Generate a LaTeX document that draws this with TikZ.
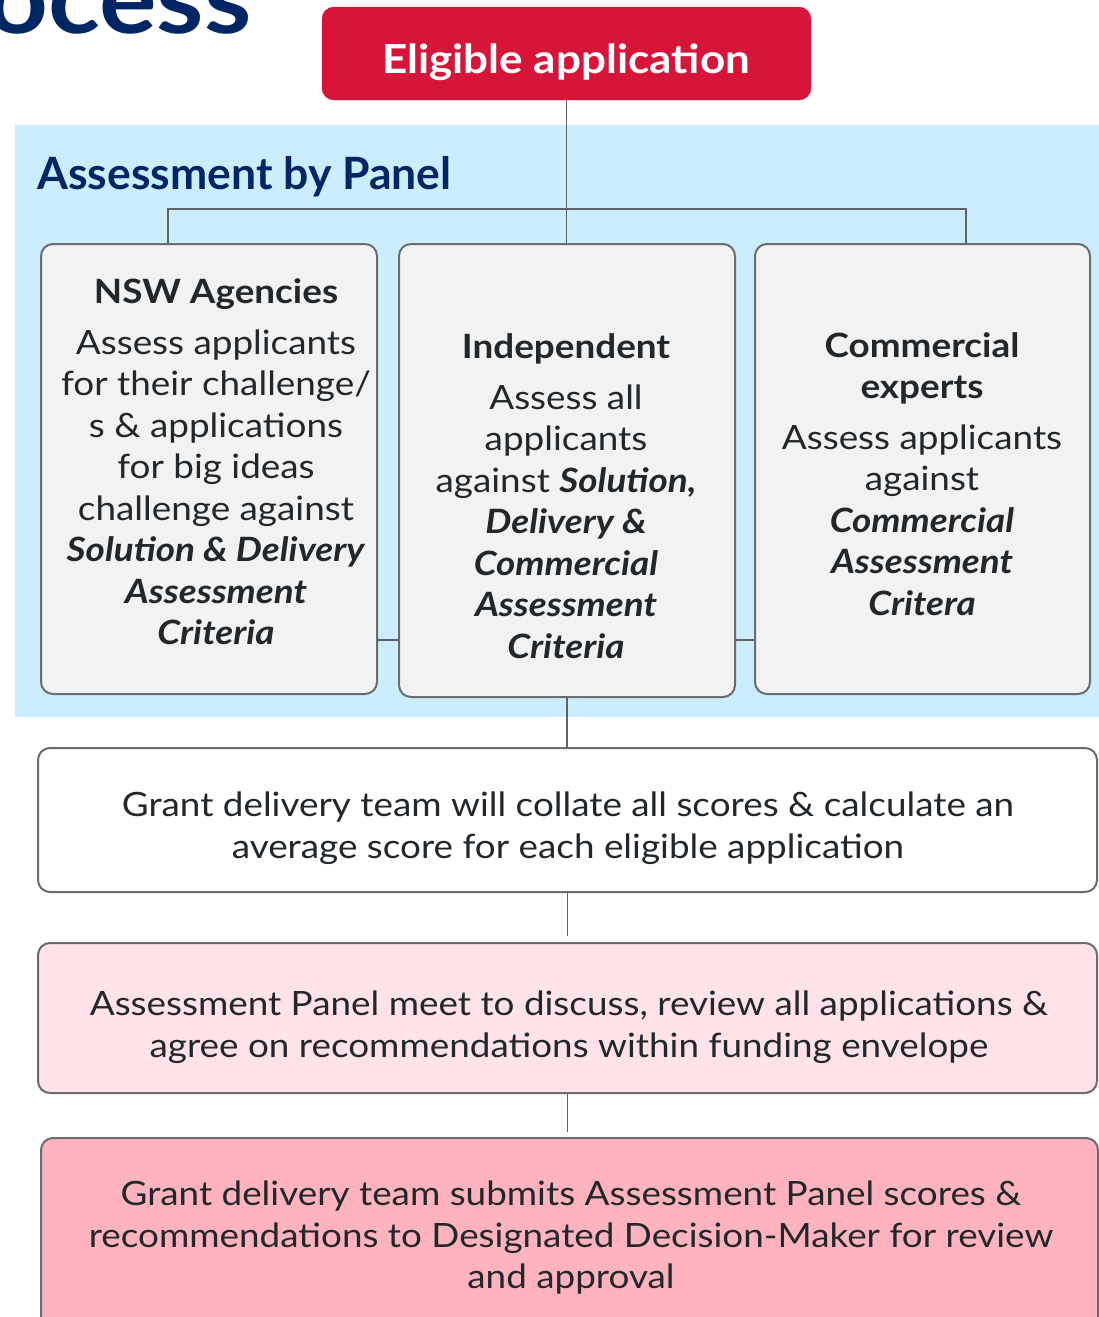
\documentclass[tikz,border=0pt]{standalone}
\usepackage{fontspec}
\setmainfont{Lato}[FakeStretch=1.1]
\newfontfamily\titlefont{Lato}
\usetikzlibrary{calc}
\definecolor{navy}{HTML}{002664}
\definecolor{nswred}{HTML}{D7153A}
\definecolor{panelblue}{HTML}{CBEDFD}
\definecolor{boxgray}{HTML}{F2F2F2}
\definecolor{bordergray}{HTML}{6A6D70}
\definecolor{linegray}{HTML}{5F6368}
\definecolor{textdark}{HTML}{22272B}
\definecolor{pinklight}{HTML}{FFE3E8}
\definecolor{pinkmid}{HTML}{FFB3BE}
\newcommand\bodyfont{\fontsize{33.5}{41.5}\selectfont}
\newcommand\bi[1]{\textbf{\textit{#1}}}
\begin{document}
\begin{tikzpicture}[x=1pt,y=-1pt,
  box/.style={draw=bordergray, line width=2pt, rounded corners=12pt, fill=boxgray, inner sep=0pt},
  conn/.style={draw=linegray, line width=1.5pt},
  txt/.style={text=textdark, align=center, font=\bodyfont, inner sep=0pt}]
\useasboundingbox (0,0) rectangle (1099,1317);
% cropped title
\node[anchor=base west, inner sep=0pt, text=navy, font=\fontsize{98}{100}\selectfont\bfseries] (title) at (-14,33) {ocess};
% panel
\node[fill=panelblue, inner sep=0pt, minimum width=1100pt, minimum height=592pt] (panel) at (565,421) {};
\node[anchor=base west, inner sep=0pt, text=navy, font=\titlefont\fontsize{44.5}{50}\selectfont\bfseries] (ptitle) at (37,189) {Assessment by Panel};
% eligible
\node[fill=nswred, draw=nswred, rounded corners=12pt, minimum width=489pt, minimum height=93pt] (elig) at (566.5,53.5) {};
\node[anchor=base, inner sep=0pt, text=white, font=\fontsize{40}{46}\selectfont\bfseries] (eligtxt) at (566,73) {Eligible application};
% three boxes
\node[box, minimum width=336pt, minimum height=450pt] (nsw) at (209,469) {};
\node[box, minimum width=336pt, minimum height=453pt] (mid) at (567,470.5) {};
\node[box, minimum width=335pt, minimum height=450pt] (comm) at (922.5,469) {};
\node[txt] (nswtxt) at (216,462) {\textbf{NSW Agencies}\\[9pt]
Assess applicants\\ for their challenge/\\ s \& applications\\ for big ideas\\ challenge against\\
\bi{Solution \& Delivery}\\ \bi{Assessment}\\ \bi{Criteria}};
\node[txt] (midtxt) at (566,496) {\textbf{Independent}\\[9pt]
Assess all\\ applicants\\ against \bi{Solution,}\\ \bi{Delivery \&}\\ \bi{Commercial}\\ \bi{Assessment}\\ \bi{Criteria}};
\node[txt] (commtxt) at (922,474) {\textbf{Commercial}\\ \textbf{experts}\\[9pt]
Assess applicants\\ against\\ \bi{Commercial}\\ \bi{Assessment}\\ \bi{Critera}};
% lower boxes
\node[box, fill=white, minimum width=1059pt, minimum height=144pt] (collate) at (567.5,820) {};
\node[txt] (collatetxt) at (568,828) {Grant delivery team will collate all scores \& calculate an\\ average score for each eligible application};
\node[box, fill=pinklight, minimum width=1059pt, minimum height=150pt] (meet) at (567.5,1018) {};
\node[txt] (meettxt) at (569,1027) {Assessment Panel meet to discuss, review all applications \&\\ agree on recommendations within funding envelope};
\node[box, fill=pinkmid, minimum width=1057pt, minimum height=197pt] (submit) at (569.5,1236.5) {};
\node[txt] (submittxt) at (571,1238) {Grant delivery team submits Assessment Panel scores \&\\ recommendations to Designated Decision-Maker for review\\ and approval};
% connectors
\coordinate (busL) at (168,209);
\coordinate (busR) at (966,209);
\coordinate (tie) at (0,640);
\draw[conn] (elig.south) -- (elig.south |- mid.north);
\draw[conn] (busL |- nsw.north) -- (busL) -- (busR) -- (busR |- comm.north);
\draw[conn] (nsw.east |- tie) -- (mid.west |- tie);
\draw[conn] (mid.east |- tie) -- (comm.west |- tie);
\draw[conn] (mid.south) -- (mid.south |- collate.north);
\draw[conn] (collate.south) -- ($(collate.south |- meet.north)+(0,-6)$);
\draw[conn] (meet.south) -- ($(meet.south |- submit.north)+(0,-5)$);
\end{tikzpicture}
\end{document}
